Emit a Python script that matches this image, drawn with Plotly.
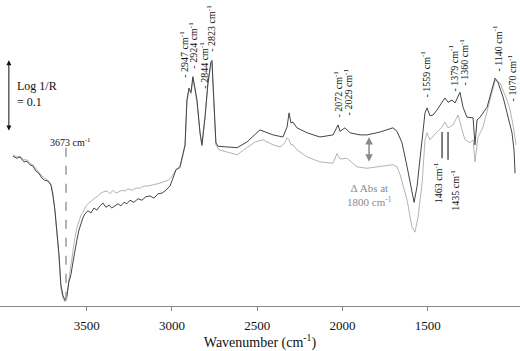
import plotly.graph_objects as go

# Spectrum after exposure (dark trace)
wn_dark = [3932, 3909, 3891, 3868, 3850, 3833, 3815, 3797, 3780, 3762, 3745, 3727, 3709, 3698, 3686, 3674, 3662, 3651, 3639, 3627,
           3616, 3604, 3592, 3580, 3569, 3557, 3545, 3533, 3522, 3510, 3492, 3475, 3457, 3440, 3422, 3404, 3387, 3369, 3352, 3334,
           3316, 3299, 3281, 3264, 3246, 3223, 3199, 3176, 3152, 3129, 3105, 3082, 3058, 3035, 3011, 2994, 2976, 2953, 2935, 2923,
           2912, 2900, 2888, 2877, 2865, 2853, 2835, 2824, 2806, 2789, 2771, 2765, 2759, 2742, 2730, 2677, 2618, 2560, 2484, 2407,
           2349, 2325, 2313, 2302, 2290, 2267, 2208, 2132, 2055, 2026, 2014, 1985, 1956, 1897, 1856, 1780, 1704, 1680, 1651, 1621,
           1592, 1580, 1563, 1533, 1516, 1504, 1487, 1469, 1446, 1416, 1399, 1381, 1358, 1340, 1311, 1293, 1270, 1234, 1223, 1211,
           1193, 1152, 1123, 1105, 1088, 1058, 1035, 1006, 994, 988]
abs_dark = [0.211, 0.208, 0.210, 0.203, 0.204, 0.199, 0.197, 0.190, 0.187, 0.180, 0.177, 0.176, 0.170, 0.156, 0.135, 0.107, 0.072, 0.030, 0.015, 0.008,
            0.014, 0.034, 0.044, 0.062, 0.079, 0.093, 0.107, 0.118, 0.124, 0.130, 0.134, 0.131, 0.138, 0.135, 0.141, 0.145, 0.139, 0.142, 0.138, 0.141,
            0.144, 0.141, 0.146, 0.144, 0.149, 0.146, 0.151, 0.149, 0.154, 0.155, 0.152, 0.158, 0.159, 0.163, 0.169, 0.180, 0.192, 0.196, 0.213, 0.227,
            0.290, 0.307, 0.301, 0.323, 0.307, 0.290, 0.244, 0.227, 0.266, 0.314, 0.344, 0.346, 0.314, 0.230, 0.225, 0.224, 0.223, 0.231, 0.248, 0.241,
            0.238, 0.252, 0.272, 0.258, 0.259, 0.251, 0.244, 0.238, 0.241, 0.255, 0.246, 0.251, 0.244, 0.241, 0.241, 0.245, 0.251, 0.246, 0.230, 0.196,
            0.163, 0.146, 0.168, 0.230, 0.272, 0.279, 0.268, 0.269, 0.276, 0.287, 0.293, 0.287, 0.290, 0.286, 0.301, 0.280, 0.266, 0.265, 0.227, 0.262,
            0.266, 0.280, 0.304, 0.321, 0.315, 0.294, 0.272, 0.244, 0.220, 0.187]

# Reference spectrum (light trace)
wn_light = [3932, 3909, 3891, 3868, 3850, 3833, 3815, 3797, 3780, 3762, 3745, 3727, 3709, 3698, 3686, 3674, 3662, 3651, 3639, 3627,
            3616, 3604, 3592, 3580, 3569, 3557, 3545, 3533, 3522, 3504, 3487, 3469, 3451, 3434, 3416, 3399, 3381, 3363, 3346, 3328,
            3311, 3293, 3275, 3258, 3234, 3211, 3187, 3164, 3140, 3117, 3094, 3070, 3047, 3023, 3000, 2976, 2953, 2935, 2923, 2912,
            2900, 2888, 2877, 2865, 2853, 2835, 2824, 2806, 2789, 2771, 2765, 2759, 2742, 2724, 2677, 2618, 2560, 2513, 2466, 2407,
            2366, 2337, 2325, 2313, 2302, 2290, 2267, 2208, 2132, 2055, 2032, 2014, 1973, 1915, 1856, 1780, 1704, 1680, 1662, 1621,
            1592, 1575, 1557, 1533, 1516, 1504, 1487, 1446, 1416, 1399, 1381, 1352, 1322, 1299, 1281, 1252, 1234, 1223, 1205, 1176,
            1135, 1105, 1076, 1035, 1017, 1000, 982]
abs_light = [0.213, 0.210, 0.211, 0.206, 0.206, 0.201, 0.199, 0.194, 0.189, 0.183, 0.180, 0.177, 0.172, 0.159, 0.135, 0.104, 0.068, 0.025, 0.011, 0.006,
             0.011, 0.037, 0.058, 0.079, 0.096, 0.110, 0.118, 0.128, 0.132, 0.141, 0.145, 0.149, 0.152, 0.155, 0.159, 0.161, 0.162, 0.158, 0.163, 0.159,
             0.161, 0.163, 0.162, 0.165, 0.163, 0.166, 0.166, 0.169, 0.169, 0.170, 0.172, 0.173, 0.175, 0.177, 0.182, 0.192, 0.194, 0.211, 0.225, 0.287,
             0.304, 0.299, 0.320, 0.304, 0.287, 0.242, 0.225, 0.265, 0.311, 0.341, 0.344, 0.311, 0.227, 0.220, 0.217, 0.213, 0.223, 0.231, 0.234, 0.227,
             0.224, 0.230, 0.237, 0.234, 0.227, 0.227, 0.220, 0.210, 0.203, 0.201, 0.215, 0.207, 0.208, 0.196, 0.194, 0.196, 0.199, 0.196, 0.185, 0.149,
             0.111, 0.104, 0.125, 0.173, 0.234, 0.244, 0.234, 0.245, 0.252, 0.259, 0.251, 0.255, 0.269, 0.248, 0.234, 0.230, 0.234, 0.203, 0.238, 0.252,
             0.290, 0.318, 0.314, 0.290, 0.276, 0.255, 0.227]

assert len(wn_dark) == len(abs_dark) and len(wn_light) == len(abs_light)

x_ticks = [3500, 3000, 2500, 2000, 1500]

# peak labels above the spectra: (label, x, bottom of text)
peak_labels = ["2947", "2924", "2844", "2823", "2072", "2029", "1559", "1379", "1360", "1140", "1070"]
peak_x = [2929, 2877, 2812, 2771, 2026, 1967, 1516, 1352, 1293, 1094, 1006]
peak_y = [0.318, 0.332, 0.304, 0.356, 0.262, 0.265, 0.290, 0.300, 0.307, 0.328, 0.286]

FONT = "Liberation Serif, Times New Roman, serif"

fig = go.Figure()
fig.add_trace(go.Scatter(x=wn_light, y=abs_light, mode="lines",
                         line=dict(color="#b4b4b4", width=1), showlegend=False))
fig.add_trace(go.Scatter(x=wn_dark, y=abs_dark, mode="lines",
                         line=dict(color="#444444", width=1), showlegend=False))

ann = []
for lab, px, py in zip(peak_labels, peak_x, peak_y):
    ann.append(dict(x=px, y=py, text="- " + lab + " cm<sup>-1</sup>", textangle=-90,
                    xanchor="center", yanchor="bottom", showarrow=False,
                    font=dict(family=FONT, size=10, color="#111")))

# labels below the light trace
for lab, px, py in [("1463", 1440, 0.206), ("1435", 1340, 0.194)]:
    ann.append(dict(x=px, y=py, text=lab + " cm<sup>-1</sup>", textangle=-90,
                    xanchor="center", yanchor="top", showarrow=False,
                    font=dict(family=FONT, size=10, color="#111")))

# 3673 label
ann.append(dict(x=3592, y=0.231, text="3673 cm<sup>-1</sup>", showarrow=False,
                font=dict(family=FONT, size=10, color="#111")))

# delta abs arrow + text
ann.append(dict(x=1844, y=0.238, ax=1844, ay=0.201, axref="x", ayref="y", text="",
                showarrow=True, arrowhead=2, arrowside="end+start", arrowsize=1,
                arrowwidth=1.5, arrowcolor="#8a8a8a"))
ann.append(dict(x=1839, y=0.156, text="\u0394 Abs at<br>1800 cm<sup>-1</sup>", showarrow=False,
                font=dict(family=FONT, size=11, color="#8a8a8a")))

# scale bar
ann.append(dict(x=3956, y=0.346, ax=3956, ay=0.245, axref="x", ayref="y", text="",
                showarrow=True, arrowhead=2, arrowside="end+start", arrowsize=1,
                arrowwidth=1, arrowcolor="#111"))
ann.append(dict(x=3921, y=0.299, text="Log 1/R<br>= 0.1", showarrow=False, align="left",
                xanchor="left", font=dict(family=FONT, size=12, color="#111")))

shapes = [
    dict(type="line", x0=3621, x1=3621, y0=0.223, y1=0.008,
         line=dict(color="#9a9a9a", width=1.5, dash="dash")),
    dict(type="line", x0=1416, x1=1416, y0=0.245, y1=0.208,
         line=dict(color="#555", width=1.5)),
    dict(type="line", x0=1381, x1=1381, y0=0.245, y1=0.206,
         line=dict(color="#555", width=1.5)),
]

fig.update_layout(
    width=520, height=351,
    margin=dict(l=0, r=0, t=0, b=45),
    paper_bgcolor="white", plot_bgcolor="white",
    font=dict(family=FONT, color="#111"),
    annotations=ann, shapes=shapes,
    xaxis=dict(range=[4008, 959], tickvals=x_ticks, ticks="outside", ticklen=4,
               tickcolor="#888", showline=True, linecolor="#888", linewidth=1,
               showgrid=False, zeroline=False, ticklabelstandoff=3,
               tickfont=dict(family=FONT, size=13, color="#111"),
               title=dict(text="Wavenumber (cm<sup>-1</sup>)", standoff=9,
                          font=dict(family=FONT, size=14, color="#111"))),
    yaxis=dict(range=[0, 0.431], visible=False),
)

# drop the default page margin so the 520x351 figure fills the window
fig.write_html("out.html", config={"displayModeBar": False},
               post_script="document.body.style.margin='0';")
